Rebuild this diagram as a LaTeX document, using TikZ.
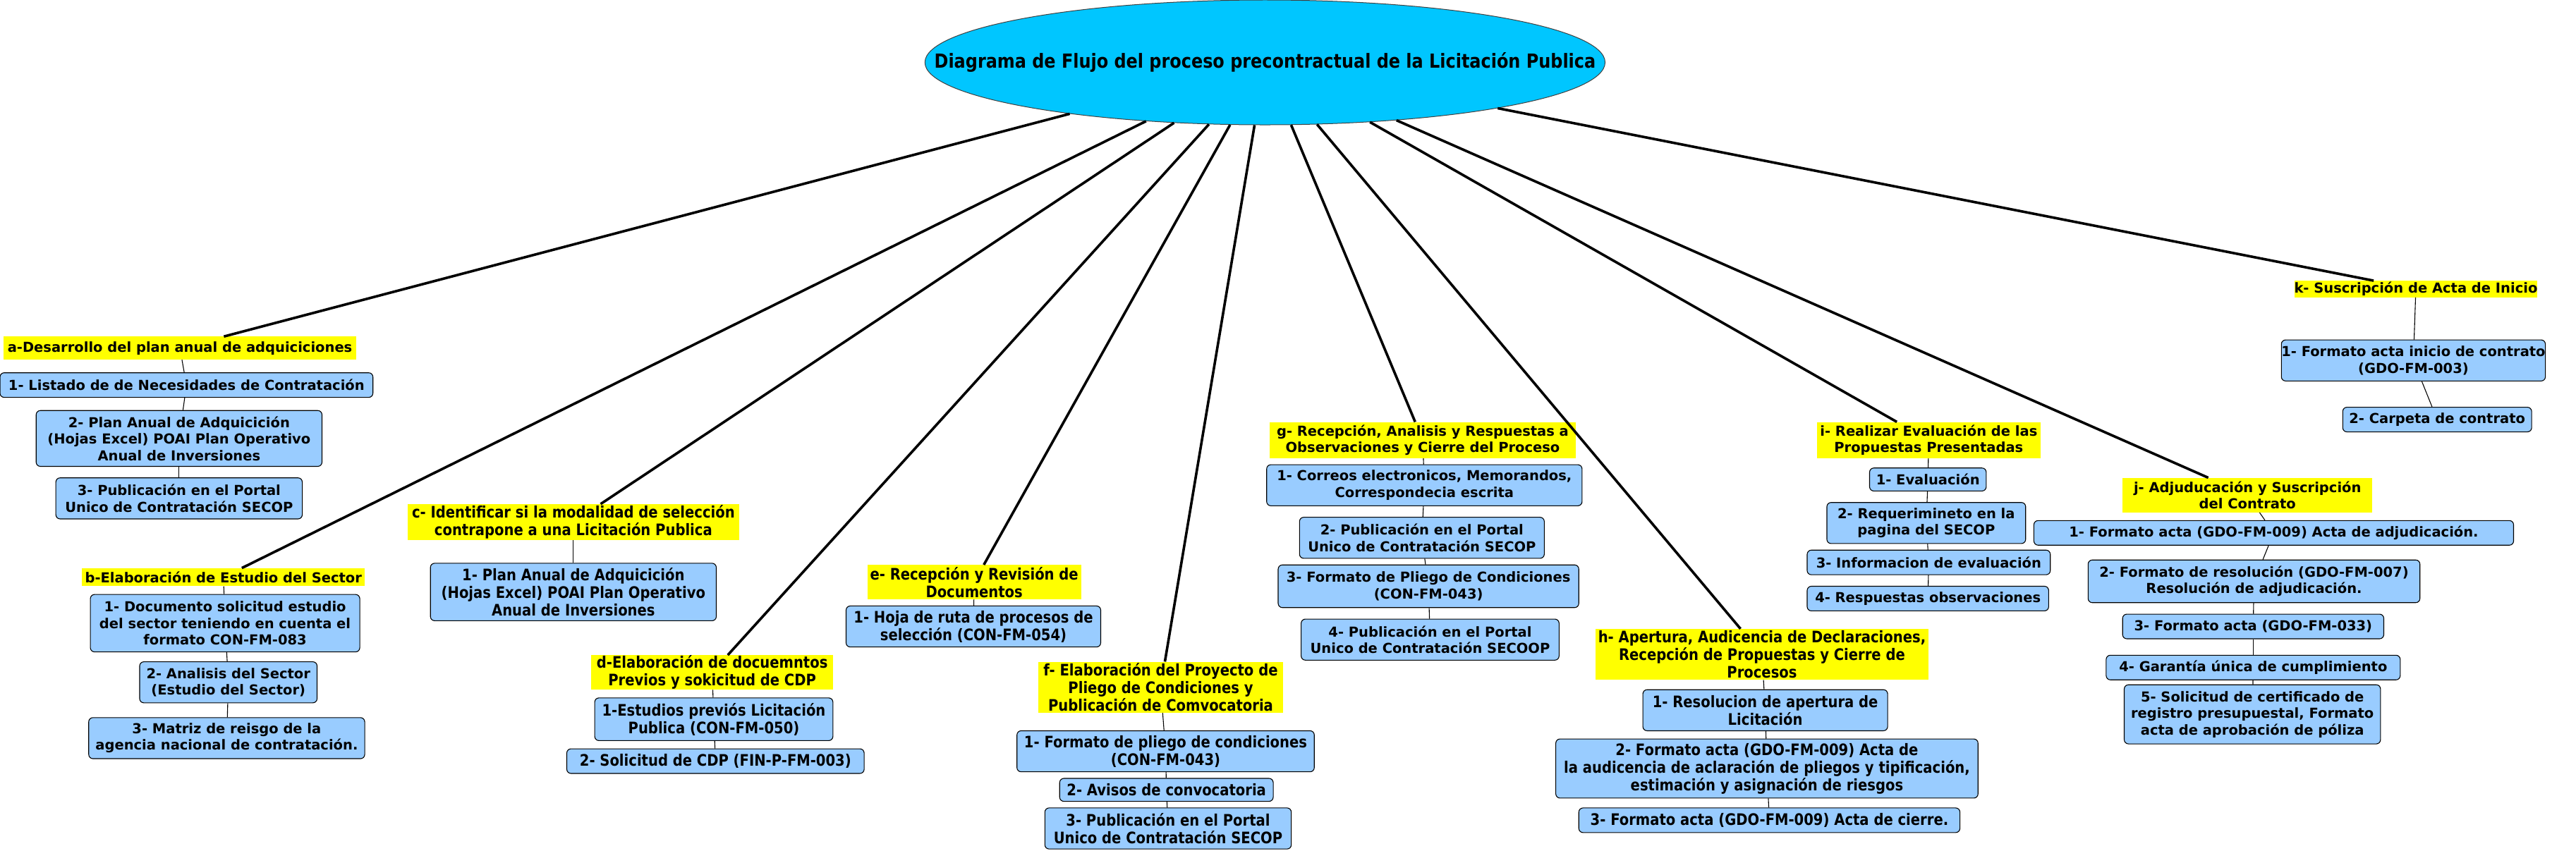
\documentclass[tikz,border=0pt]{standalone}
\usepackage{fontspec}
\setmainfont{DejaVu Sans}
\newfontfamily\condfam{DejaVu Sans}[FakeStretch=0.87]
\usetikzlibrary{shapes.geometric}
\definecolor{itemblue}{RGB}{153,204,255}
\definecolor{labyellow}{RGB}{255,255,0}
\definecolor{titleblue}{RGB}{0,198,255}
\newcommand{\vfont}{\fontsize{19.5}{23.5}\selectfont\bfseries}
\newcommand{\cfont}{\condfam\fontsize{22.5}{25}\selectfont\bfseries}
\tikzset{
  sz/.style 2 args={minimum width=#1*2.329pt, minimum height=#2*2.329pt},
  item/.style={draw=black, line width=1.1pt, fill=itemblue, rounded corners=6pt, inner sep=0pt, align=center, font=\vfont},
  itemc/.style={item, font=\cfont},
  lab/.style={fill=labyellow, inner sep=0pt, align=center, font=\vfont},
  labc/.style={lab, font=\cfont},
  mainline/.style={line width=3.6pt, black},
  subline/.style={line width=1.1pt, black},
}
\begin{document}
\begin{tikzpicture}[x=2.329pt, y=-2.329pt]
\fill[white] (0,0) rectangle (1568,518);
\useasboundingbox (0,0) rectangle (1568,518);

\node[ellipse, draw=black!75, line width=1pt, fill=titleblue, inner sep=0pt, sz={414}{76}] (title) at (770,38) {};
\node[inner sep=0pt, font={\condfam\fontsize{27.5}{30}\selectfont\bfseries}] (titletext) at (title.center) {Diagrama de Flujo del proceso precontractual de la Licitación Publica};

% a
\node[lab, sz={215}{14}] (a) at (109.5,212) {a-Desarrollo del plan anual de adquiciciones};
\node[item, sz={227}{15}] (a1) at (113.5,234.5) {1- Listado de de Necesidades de Contratación};
\node[item, sz={174}{34}] (a2) at (109,267) {2- Plan Anual de Adquicición\\(Hojas Excel) POAI Plan Operativo\\Anual de Inversiones};
\node[item, sz={150}{25}] (a3) at (109,303.5) {3- Publicación en el Portal\\Unico de Contratación SECOP};
% b
\node[lab, sz={172}{11}] (b) at (136,351.5) {b-Elaboración de Estudio del Sector};
\node[item, sz={164}{35}] (b1) at (137,379.5) {1- Documento solicitud estudio\\del sector teniendo en cuenta el\\formato CON-FM-083};
\node[item, sz={108}{25}] (b2) at (139,415.5) {2- Analisis del Sector\\(Estudio del Sector)};
\node[item, sz={168}{25}] (b3) at (138,449.5) {3- Matriz de reisgo de la\\agencia nacional de contratación.};
% c
\node[labc, sz={202}{22}] (c) at (349,318) {c- Identificar si la modalidad de selección\\contrapone a una Licitación Publica};
\node[itemc, sz={174}{35}] (c1) at (349,360.5) {1- Plan Anual de Adquicición\\(Hojas Excel) POAI Plan Operativo\\Anual de Inversiones};
% d
\node[labc, sz={147}{21}] (d) at (433.5,409.5) {d-Elaboración de docuemntos\\Previos y sokicitud de CDP};
\node[itemc, sz={145}{26}] (d1) at (434.5,438) {1-Estudios previós Licitación\\Publica (CON-FM-050)};
\node[itemc, sz={181}{15}] (d2) at (435.5,463.5) {2- Solicitud de CDP (FIN-P-FM-003)};
% e
\node[labc, sz={130}{21}] (e) at (593,354.5) {e- Recepción y Revisión de\\Documentos};
\node[itemc, sz={155}{25}] (e1) at (592.5,381.5) {1- Hoja de ruta de procesos de\\selección (CON-FM-054)};
% f
\node[labc, sz={149}{31}] (f) at (706.5,418.5) {f- Elaboración del Proyecto de\\Pliego de Condiciones y\\Publicación de Comvocatoria};
\node[itemc, sz={181}{25}] (f1) at (709.5,457.5) {1- Formato de pliego de condiciones\\(CON-FM-043)};
\node[itemc, sz={130}{14}] (f2) at (710,481) {2- Avisos de convocatoria};
\node[itemc, sz={150}{25}] (f3) at (711,504.5) {3- Publicación en el Portal\\Unico de Contratación SECOP};
% g
\node[lab, sz={186}{22}] (g) at (866,268) {g- Recepción, Analisis y Respuestas a\\Observaciones y Cierre del Proceso};
\node[item, sz={192}{25}] (g1) at (867,295.5) {1- Correos electronicos, Memorandos,\\Correspondecia escrita};
\node[item, sz={149}{25}] (g2) at (865.5,327.5) {2- Publicación en el Portal\\Unico de Contratación SECOP};
\node[item, sz={183}{26}] (g3) at (869.5,357) {3- Formato de Pliego de Condiciones\\(CON-FM-043)};
\node[item, sz={157}{25}] (g4) at (870.5,389.5) {4- Publicación en el Portal\\Unico de Contratación SECOOP};
% h
\node[labc, sz={203}{31}] (h) at (1072.5,398.5) {h- Apertura, Audicencia de Declaraciones,\\Recepción de Propuestas y Cierre de\\Procesos};
\node[itemc, sz={149}{25}] (h1) at (1074.5,432.5) {1- Resolucion de apertura de\\Licitación};
\node[itemc, sz={257}{36}] (h2) at (1075.5,468) {2- Formato acta (GDO-FM-009) Acta de\\la audicencia de aclaración de pliegos y tipificación,\\estimación y asignación de riesgos};
\node[itemc, sz={232}{15}] (h3) at (1077,499.5) {3- Formato acta (GDO-FM-009) Acta de cierre.};
% i
\node[lab, sz={136}{22}] (i) at (1174,268) {i- Realizar Evaluación de las\\Propuestas Presentadas};
\node[item, sz={71}{14}] (i1) at (1173.5,292) {1- Evaluación};
\node[item, sz={121}{25}] (i2) at (1172.5,318.5) {2- Requerimineto en la\\pagina del SECOP};
\node[item, sz={148}{15}] (i3) at (1174,342.5) {3- Informacion de evaluación};
\node[item, sz={147}{15}] (i4) at (1173.5,364.5) {4- Respuestas observaciones};
% j
\node[lab, sz={152}{21}] (j) at (1368,301.5) {j- Adjuducación y Suscripción\\del Contrato};
\node[item, sz={292}{15}] (j1) at (1384,324.5) {1- Formato acta (GDO-FM-009) Acta de adjudicación.};
\node[item, sz={202}{26}] (j2) at (1372,354) {2- Formato de resolución (GDO-FM-007)\\Resolución de adjudicación.};
\node[item, sz={159}{15}] (j3) at (1371.5,381.5) {3- Formato acta (GDO-FM-033)};
\node[item, sz={179}{15}] (j4) at (1371.5,406.5) {4- Garantía única de cumplimiento};
\node[item, sz={156}{36}] (j5) at (1371,435) {5- Solicitud de certificado de\\registro presupuestal, Formato\\acta de aprobación de póliza};
% k
\node[lab, sz={143}{10}] (k) at (1470.5,176) {k- Suscripción de Acta de Inicio};
\node[item, sz={146}{25}] (k1) at (1469,219.5) {1- Formato acta inicio de contrato\\(GDO-FM-003)};
\node[item, sz={115}{15}] (k2) at (1483.5,255.5) {2- Carpeta de contrato};

% main connectors
\foreach \n in {a,b,c,d,e,f,g,h,i,j,k}
  \draw[mainline] (title) -- (\n);

% sub connectors
\draw[subline] (a) -- (a1);
\draw[subline] (a1) -- (a2);
\draw[subline] (a2) -- (a3);
\draw[subline] (b) -- (b1);
\draw[subline] (b1) -- (b2);
\draw[subline] (b2) -- (b3);
\draw[subline] (c) -- (c1);
\draw[subline] (d) -- (d1);
\draw[subline] (d1) -- (d2);
\draw[subline] (e) -- (e1);
\draw[subline] (f) -- (f1);
\draw[subline] (f1) -- (f2);
\draw[subline] (f2) -- (f3);
\draw[subline] (g) -- (g1);
\draw[subline] (g1) -- (g2);
\draw[subline] (g2) -- (g3);
\draw[subline] (g3) -- (g4);
\draw[subline] (h) -- (h1);
\draw[subline] (h1) -- (h2);
\draw[subline] (h2) -- (h3);
\draw[subline] (i) -- (i1);
\draw[subline] (i1) -- (i2);
\draw[subline] (i2) -- (i3);
\draw[subline] (i3) -- (i4);
\draw[subline] (j) -- (j1);
\draw[subline] (j1) -- (j2);
\draw[subline] (j2) -- (j3);
\draw[subline] (j3) -- (j4);
\draw[subline] (j4) -- (j5);
\draw[subline] (k) -- (k1);
\draw[subline] (k1) -- (k2);
\end{tikzpicture}
\end{document}
